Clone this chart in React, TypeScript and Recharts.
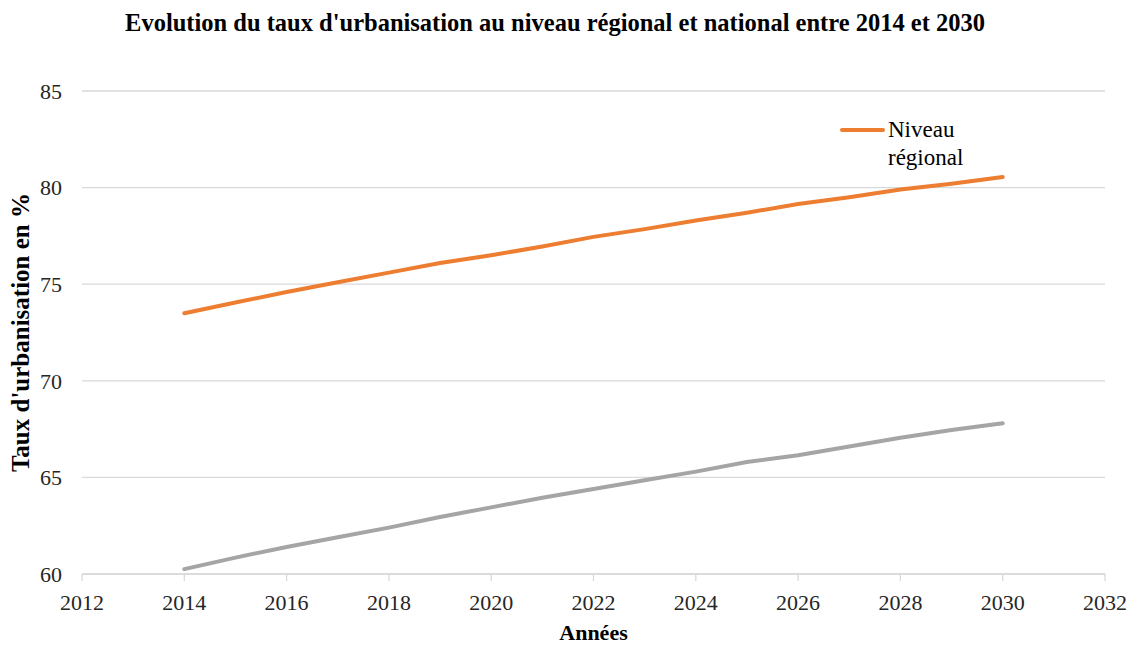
import React from 'react';
import {
  LineChart,
  Line,
  XAxis,
  YAxis,
  CartesianGrid
} from 'recharts';

const years = [2014, 2015, 2016, 2017, 2018, 2019, 2020, 2021, 2022, 2023, 2024, 2025, 2026, 2027, 2028, 2029, 2030];
const regional = [73.5, 74.05, 74.6, 75.1, 75.6, 76.1, 76.5, 76.95, 77.45, 77.85, 78.3, 78.7, 79.15, 79.5, 79.9, 80.2, 80.55];
const national = [60.25, 60.85, 61.4, 61.9, 62.4, 62.95, 63.45, 63.95, 64.4, 64.85, 65.3, 65.8, 66.15, 66.6, 67.05, 67.45, 67.8];
const xTicks = [2012, 2014, 2016, 2018, 2020, 2022, 2024, 2026, 2028, 2030, 2032];
const yTicks = [60, 65, 70, 75, 80, 85];

const data = years.map((year, i) => ({
  year,
  regional: regional[i],
  national: national[i]
}));

const FONT = '"Liberation Serif", "Times New Roman", serif';
const GRID = '#d9d9d9';

// only the regional entry shows in the original legend
const LegendBox = () => (
  <div
    style={{
      position: 'absolute',
      left: 840,
      top: 116,
      display: 'flex',
      alignItems: 'flex-start',
      fontFamily: FONT,
      fontSize: 23,
      color: '#000',
      lineHeight: '28px'
    }}
  >
    <div style={{ width: 45, height: 4, background: '#ED7D31', marginTop: 12, marginRight: 3, borderRadius: 2 }} />
    <div>Niveau<br />régional</div>
  </div>
);

const App = () => {
  return (
    <div style={{ position: 'absolute', left: 0, top: 0, width: 1130, height: 645, background: '#fff' }}>
      <LineChart
        width={1130}
        height={645}
        data={data}
        margin={{ top: 91, right: 25, bottom: 0, left: 0 }}
      >
        <CartesianGrid vertical={false} stroke={GRID} strokeWidth={1.3} />
        <XAxis
          dataKey="year"
          type="number"
          domain={[2012, 2032]}
          ticks={xTicks}
          height={71}
          stroke={GRID}
          strokeWidth={1.3}
          tickSize={7}
          tick={{ fontFamily: FONT, fontSize: 22, fill: '#262626' }}
          tickMargin={13}
          label={{
            value: 'Années',
            position: 'insideBottom',
            offset: 5,
            style: { fontFamily: FONT, fontWeight: 'bold', fontSize: 22, fill: '#000' }
          }}
        />
        <YAxis
          type="number"
          domain={[60, 85]}
          ticks={yTicks}
          width={82}
          axisLine={false}
          tickLine={false}
          tickMargin={14}
          tick={{ fontFamily: FONT, fontSize: 22, fill: '#262626' }}
          label={{
            value: "Taux d'urbanisation en %",
            angle: -90,
            position: 'insideLeft',
            offset: 20,
            style: { textAnchor: 'middle', fontFamily: FONT, fontWeight: 'bold', fontSize: 25, fill: '#000' }
          }}
        />
        <Line
          dataKey="regional"
          name="Niveau régional"
          stroke="#ED7D31"
          strokeWidth={4}
          dot={false}
          strokeLinecap="round"
          isAnimationActive={false}
        />
        <Line
          dataKey="national"
          name="Niveau national"
          stroke="#A5A5A5"
          strokeWidth={4}
          dot={false}
          strokeLinecap="round"
          isAnimationActive={false}
        />
      </LineChart>
      <div
        style={{
          position: 'absolute',
          top: 9,
          left: 0,
          width: 1110,
          textAlign: 'center',
          fontFamily: FONT,
          fontWeight: 'bold',
          fontSize: 24.5,
          color: '#000'
        }}
      >
        Evolution du taux d'urbanisation au niveau régional et national entre 2014 et 2030
      </div>
      <LegendBox />
    </div>
  );
};

export default App;
